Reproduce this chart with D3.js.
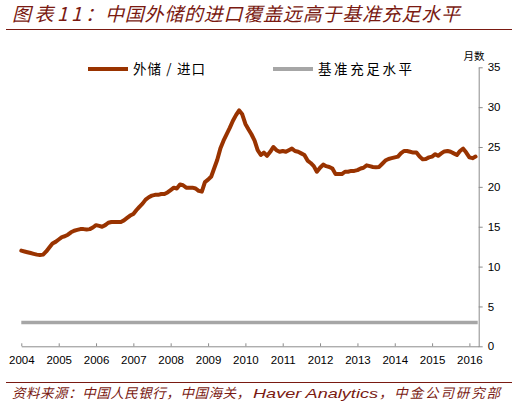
<!DOCTYPE html>
<html>
<head>
<meta charset="utf-8">
<script src="https://d3js.org/d3.v7.min.js"></script>
<style>
body { margin: 0; background: #fff; font-family: "Liberation Sans", Arial, sans-serif; }
svg { display: block; }
</style>
</head>
<body>
<script>
// monthly reserves / imports, months of cover, Jan 2004 .. Mar 2016
var startYear = 2004;
var cover = [
  12.0, 11.9, 11.8, 11.7, 11.6, 11.5, 11.45, 11.5, 11.9, 12.4, 12.9, 13.1,
  13.4, 13.7, 13.8, 14.0, 14.3, 14.5, 14.6, 14.7, 14.7, 14.65, 14.7, 14.9,
  15.2, 15.1, 15.0, 15.2, 15.5, 15.6, 15.6, 15.6, 15.6, 15.8, 16.1, 16.4,
  16.6, 17.1, 17.5, 17.9, 18.4, 18.7, 18.9, 19.0, 19.0, 19.1, 19.1, 19.3,
  19.6, 19.9, 19.8, 20.3, 20.2, 19.9, 19.9, 19.9, 19.8, 19.5, 19.4, 20.6,
  20.9, 21.3, 22.3, 23.4, 24.8, 25.8, 26.6, 27.4, 28.3, 29.0, 29.6, 29.1,
  27.9, 27.2, 26.6, 25.8, 24.6, 24.0, 24.3, 23.9, 24.4, 25.0, 24.6, 24.4,
  24.5, 24.4, 24.6, 24.8, 24.5, 24.4, 24.2, 24.0, 23.3, 23.0, 22.6, 21.9,
  22.4, 22.8, 22.6, 22.5, 22.3, 21.6, 21.6, 21.6, 21.9, 21.9, 22.0, 22.0,
  22.1, 22.3, 22.4, 22.7, 22.6, 22.5, 22.45, 22.5, 22.9, 23.3, 23.5, 23.6,
  23.7, 23.8, 24.2, 24.5, 24.5, 24.4, 24.3, 24.3, 23.8, 23.45, 23.5, 23.7,
  23.8, 24.1, 23.9, 24.2, 24.45, 24.5, 24.4, 24.2, 24.0, 24.5, 24.8, 24.3,
  23.7, 23.6, 23.8
];
var benchmark = 3;
var yTicks = [0, 5, 10, 15, 20, 25, 30, 35];
var yearTicks = d3.range(2004, 2017);

var seriesNames = ["外储 / 进口", "基准充足水平"];
var titleLead = "图表11：";
var titleMain = "中国外储的进口覆盖远高于基准充足水平";
var sourceParts = ["资料来源：中国人民银行，中国海关，", "Haver Analytics", "，中金公司研究部"];

var width = 512, height = 406;
var red = "#7a1a12", brown = "#993300", grey = "#a6a6a6", axisGrey = "#8c8c8c";

var svg = d3.select("body").append("svg")
    .attr("width", width)
    .attr("height", height);

var cjk = "'Noto Sans CJK SC', 'Noto Sans', sans-serif";

// title
svg.append("text")
    .attr("x", 12).attr("y", 21)
    .attr("fill", red)
    .attr("textLength", 92).attr("lengthAdjust", "spacing")
    .style("font-family", cjk).style("font-style", "italic")
    .style("font-size", "19px")
    .text(titleLead);
svg.append("text")
    .attr("x", 105).attr("y", 21)
    .attr("fill", red)
    .attr("textLength", 355).attr("lengthAdjust", "spacing")
    .style("font-family", cjk).style("font-style", "italic")
    .style("font-size", "19px")
    .text(titleMain);

svg.append("line")
    .attr("x1", 6).attr("x2", width).attr("y1", 29.5).attr("y2", 29.5)
    .attr("stroke", red).attr("stroke-width", 1.2);

// scales
var x = d3.scaleTime()
    .domain([new Date(2004, 0, 1), new Date(2016, 3, 1)])
    .range([21.3, 478.7]);
var y = d3.scaleLinear()
    .domain([0, 35])
    .range([346.3, 67.3]);

var data = cover.map(function(v, i) {
  return { date: new Date(startYear, i, 1), value: v };
});

// x axis
var xAxis = svg.append("g")
    .attr("transform", "translate(0," + y(0) + ")")
    .call(d3.axisBottom(x)
        .tickValues(yearTicks.map(function(yr) { return new Date(yr, 0, 1); }))
        .tickFormat(d3.timeFormat("%Y"))
        .tickSizeInner(-3).tickSizeOuter(0).tickPadding(10));
xAxis.select(".domain").attr("stroke", axisGrey);
xAxis.selectAll(".tick line").attr("stroke", axisGrey);
xAxis.selectAll(".tick text")
    .attr("fill", "#000")
    .style("font-family", "'Liberation Sans', Arial, sans-serif")
    .style("font-size", "11.5px");

// y axis on the right
var yAxis = svg.append("g")
    .attr("transform", "translate(" + x.range()[1] + ",0)")
    .call(d3.axisRight(y)
        .tickValues(yTicks)
        .tickSizeInner(4).tickSizeOuter(0).tickPadding(5));
yAxis.select(".domain").attr("stroke", axisGrey);
yAxis.selectAll(".tick line").attr("stroke", axisGrey);
yAxis.selectAll(".tick text")
    .attr("fill", "#000")
    .style("font-family", "'Liberation Sans', Arial, sans-serif")
    .style("font-size", "11.5px");

svg.append("text")
    .attr("x", 474).attr("y", 60)
    .attr("text-anchor", "middle")
    .style("font-family", cjk).style("font-size", "10.5px")
    .attr("fill", "#000")
    .text("月数");

// benchmark line
svg.append("line")
    .attr("x1", x.range()[0]).attr("x2", x.range()[1] - 1)
    .attr("y1", y(benchmark)).attr("y2", y(benchmark))
    .attr("stroke", grey).attr("stroke-width", 3.5);

// reserves / imports line
var line = d3.line()
    .x(function(d) { return x(d.date); })
    .y(function(d) { return y(d.value); });

svg.append("path")
    .datum(data)
    .attr("d", line)
    .attr("fill", "none")
    .attr("stroke", brown)
    .attr("stroke-width", 4)
    .attr("stroke-linejoin", "round")
    .attr("stroke-linecap", "round");

// legend
var legend = [
  { name: seriesNames[0], color: brown, x: 88, w: 72 },
  { name: seriesNames[1], color: grey, x: 273, w: 94 }
];
var lg = svg.selectAll(".legend").data(legend).enter().append("g")
    .attr("class", "legend");
lg.append("line")
    .attr("x1", function(d) { return d.x; })
    .attr("x2", function(d) { return d.x + 40; })
    .attr("y1", 69).attr("y2", 69)
    .attr("stroke", function(d) { return d.color; })
    .attr("stroke-width", 4);
lg.append("text")
    .attr("x", function(d) { return d.x + 45; })
    .attr("y", 74)
    .attr("textLength", function(d) { return d.w; })
    .attr("lengthAdjust", "spacing")
    .style("font-family", cjk).style("font-size", "13.5px")
    .attr("fill", "#000")
    .text(function(d) { return d.name; });

// source
svg.append("line")
    .attr("x1", 6).attr("x2", width).attr("y1", 382.5).attr("y2", 382.5)
    .attr("stroke", red).attr("stroke-width", 1.2);
var src = [
  { t: sourceParts[0], x: 12, w: 238, f: cjk, adj: "spacing" },
  { t: sourceParts[1], x: 253, w: 125, f: "'Liberation Sans', Arial, sans-serif", adj: "spacingAndGlyphs" },
  { t: sourceParts[2], x: 379, w: 121, f: cjk, adj: "spacing" }
];
svg.selectAll(".src").data(src).enter().append("text")
    .attr("class", "src")
    .attr("x", function(d) { return d.x; })
    .attr("y", 398)
    .attr("fill", red)
    .attr("textLength", function(d) { return d.w; })
    .attr("lengthAdjust", function(d) { return d.adj; })
    .style("font-family", function(d) { return d.f; })
    .style("font-style", "italic")
    .style("font-size", "13.5px")
    .text(function(d) { return d.t; });
</script>
</body>
</html>
